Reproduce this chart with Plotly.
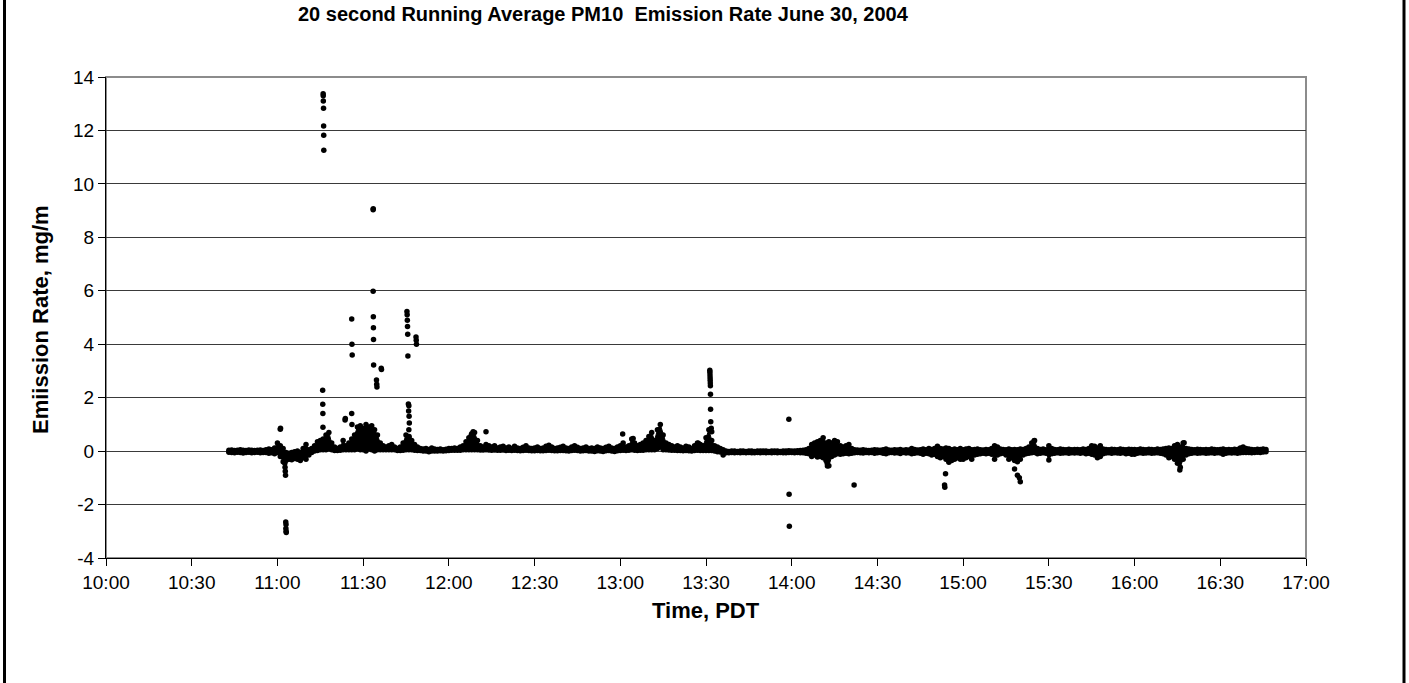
import plotly.graph_objects as go

# ---------------- data ----------------
DAY = "2004-06-30"
START_MIN = 43  # first baseline minute after 10:00 (10:43)

# per-minute upper / lower edge of the dense band, by hour
hi_10 = [0.03,0.04,0.02,0.03,0.05,0.03,0.02,0.04,0.03,0.02,0.03,0.04,0.02,0.05,0.08,0.05,0.12]
lo_10 = [-0.04,-0.05,-0.06,-0.04,-0.05,-0.07,-0.05,-0.04,-0.06,-0.05,-0.04,-0.06,-0.05,-0.05,-0.08,-0.06,-0.10]

hi_11 = [0.30,0.20,0.10,-0.05,-0.08,-0.05,-0.02,0.00,-0.05,0.10,
         0.25,0.05,0.10,0.20,0.35,0.40,0.45,0.60,0.70,0.30,
         0.15,0.10,0.15,0.40,0.20,0.30,0.45,0.60,0.90,0.95,
         0.85,1.00,0.90,0.95,0.80,0.60,0.30,0.20,0.15,0.20,
         0.25,0.15,0.10,0.15,0.30,0.60,0.50,0.40,0.25,0.15,
         0.10,0.08,0.10,0.06,0.12,0.08,0.06,0.08,0.05,0.07]
lo_11 = [-0.05,-0.20,-0.40,-0.35,-0.30,-0.32,-0.28,-0.30,-0.35,-0.25,
         -0.30,-0.15,-0.05,0.00,0.02,0.05,0.05,0.05,0.10,0.05,
         0.02,0.02,0.03,0.05,0.05,0.05,0.05,0.05,0.10,0.05,
         0.05,0.00,0.10,0.05,0.00,0.05,0.05,0.05,0.05,0.05,
         0.05,0.05,0.02,0.02,0.03,0.05,0.05,0.05,0.03,0.02,
         0.02,0.00,0.00,-0.02,0.00,0.00,0.00,0.01,0.00,0.01]

hi_12 = [0.10,0.10,0.12,0.10,0.15,0.20,0.35,0.50,0.65,0.70,
         0.40,0.20,0.15,0.25,0.20,0.15,0.20,0.12,0.15,0.18,
         0.12,0.15,0.10,0.18,0.12,0.10,0.14,0.20,0.12,0.10,
         0.12,0.15,0.10,0.12,0.18,0.22,0.15,0.10,0.12,0.14,
         0.18,0.12,0.10,0.15,0.20,0.14,0.10,0.12,0.15,0.10,
         0.12,0.10,0.15,0.12,0.10,0.14,0.18,0.12,0.10,0.15]
lo_12 = [0.02,0.03,0.03,0.03,0.03,0.05,0.05,0.05,0.05,0.05,
         0.05,0.04,0.04,0.05,0.04,0.03,0.04,0.03,0.03,0.04,
         0.02,0.03,0.02,0.03,0.02,0.01,0.02,0.03,0.02,0.01,
         0.01,0.02,0.01,0.01,0.02,0.03,0.02,0.01,0.01,0.02,
         0.02,0.01,0.00,0.02,0.03,0.02,0.00,0.01,0.02,0.00,
         0.00,-0.01,0.01,0.00,-0.01,0.01,0.02,0.00,-0.01,0.01]

hi_13 = [0.20,0.30,0.15,0.20,0.45,0.30,0.20,0.25,0.30,0.40,
         0.55,0.70,0.40,0.80,1.00,0.60,0.30,0.25,0.20,0.15,
         0.20,0.15,0.12,0.18,0.15,0.10,0.20,0.30,0.25,0.20,
         0.50,0.80,0.40,0.20,0.15,0.10,0.05,0.00,-0.01,0.00,
         0.00,-0.01,0.00,0.00,-0.01,0.00,0.00,-0.01,0.00,0.00,
         0.00,0.00,-0.01,0.00,0.00,0.00,-0.01,0.00,0.00,0.01]
lo_13 = [0.02,0.03,0.02,0.03,0.05,0.03,0.02,0.03,0.03,0.05,
         0.05,0.05,0.05,0.10,0.15,0.05,0.05,0.04,0.03,0.03,
         0.02,0.02,0.01,0.02,0.01,0.00,0.02,0.03,0.02,0.02,
         0.02,0.02,0.02,0.00,-0.02,-0.03,-0.15,-0.06,-0.06,-0.05,
         -0.06,-0.05,-0.06,-0.05,-0.06,-0.05,-0.06,-0.06,-0.05,-0.06,
         -0.05,-0.06,-0.05,-0.06,-0.05,-0.06,-0.05,-0.06,-0.06,-0.05]

hi_14 = [0.00,0.00,0.01,0.02,0.03,0.05,0.10,0.25,0.30,0.35,
         0.40,0.50,0.30,0.35,0.30,0.40,0.35,0.20,0.15,0.20,
         0.25,0.10,0.05,0.04,0.03,0.05,0.03,0.02,0.03,0.05,
         0.04,0.03,0.05,0.08,0.04,0.03,0.05,0.04,0.06,0.03,
         0.05,0.04,0.10,0.06,0.04,0.05,0.08,0.05,0.10,0.06,
         0.10,0.18,0.10,0.08,0.12,0.10,0.05,0.08,0.05,0.10]
lo_14 = [-0.05,-0.06,-0.05,-0.06,-0.06,-0.08,-0.10,-0.20,-0.15,-0.22,
         -0.20,-0.25,-0.35,-0.55,-0.20,-0.15,-0.10,-0.12,-0.10,-0.08,
         -0.10,-0.08,-0.06,-0.05,-0.06,-0.07,-0.05,-0.06,-0.05,-0.08,
         -0.06,-0.05,-0.08,-0.10,-0.06,-0.05,-0.07,-0.06,-0.09,-0.05,
         -0.07,-0.06,-0.10,-0.08,-0.06,-0.08,-0.12,-0.08,-0.10,-0.15,
         -0.12,-0.20,-0.25,-0.20,-0.30,-0.42,-0.35,-0.30,-0.25,-0.30]

hi_15 = [0.05,0.08,0.10,0.05,0.06,0.08,0.05,0.04,0.06,0.05,
         0.10,0.20,0.15,0.08,0.06,0.05,0.08,0.05,0.06,0.05,
         0.08,0.06,0.10,0.15,0.30,0.40,0.10,0.06,0.08,0.05,
         0.20,0.10,0.06,0.05,0.08,0.06,0.05,0.07,0.05,0.06,
         0.06,0.05,0.08,0.06,0.10,0.20,0.18,0.12,0.20,0.08,
         0.06,0.05,0.07,0.06,0.05,0.08,0.06,0.05,0.07,0.06]
lo_15 = [-0.30,-0.25,-0.20,-0.30,-0.15,-0.12,-0.10,-0.08,-0.10,-0.08,
         -0.12,-0.30,-0.15,-0.10,-0.08,-0.15,-0.30,-0.25,-0.35,-0.40,
         -0.30,-0.15,-0.10,-0.08,-0.06,-0.05,-0.10,-0.08,-0.06,-0.08,
         -0.33,-0.10,-0.08,-0.06,-0.08,-0.07,-0.06,-0.08,-0.06,-0.07,
         -0.06,-0.08,-0.06,-0.10,-0.08,-0.12,-0.15,-0.25,-0.20,-0.10,
         -0.07,-0.06,-0.08,-0.06,-0.07,-0.08,-0.06,-0.10,-0.08,-0.12]

hi_16 = [0.06,0.05,0.08,0.06,0.05,0.07,0.06,0.05,0.08,0.06,
         0.08,0.10,0.12,0.10,0.20,0.25,0.15,0.30,0.10,0.08,
         0.06,0.05,0.07,0.06,0.05,0.06,0.05,0.08,0.06,0.05,
         0.06,0.08,0.05,0.06,0.05,0.07,0.06,0.12,0.15,0.10,
         0.08,0.06,0.05,0.07,0.06,0.08,0.06]
lo_16 = [-0.12,-0.08,-0.06,-0.08,-0.07,-0.06,-0.08,-0.07,-0.06,-0.08,
         -0.10,-0.15,-0.25,-0.20,-0.30,-0.45,-0.60,-0.30,-0.15,-0.10,
         -0.08,-0.06,-0.08,-0.07,-0.06,-0.08,-0.07,-0.06,-0.08,-0.06,
         -0.07,-0.12,-0.08,-0.06,-0.07,-0.06,-0.08,-0.06,-0.05,-0.05,
         -0.05,-0.06,-0.05,-0.04,-0.05,-0.03,-0.02]

# isolated points away from the band
spike_times = ["11:01:00","11:01:05",
               "11:02:35","11:02:40","11:02:45","11:02:50",
               "11:02:55","11:03:00","11:02:58","11:03:02","11:03:05",
               "11:16:00","11:16:02","11:16:04","11:16:08","11:16:10","11:16:12","11:16:14",
               "11:15:50","11:15:52","11:15:54","11:15:56",
               "11:23:40","11:23:45",
               "11:26:00","11:26:05","11:26:10","11:26:00","11:26:05",
               "11:33:30","11:33:32","11:33:30","11:33:34","11:33:36","11:33:38","11:33:40",
               "11:34:40","11:34:45","11:34:50",
               "11:36:20","11:36:25",
               "11:45:20","11:45:24","11:45:28","11:45:32","11:45:36","11:45:40",
               "11:45:50","11:46:00","11:45:55","11:46:05","11:46:10","11:46:00","11:46:05",
               "11:48:30","11:48:35","11:48:40",
               "12:07:50","12:08:30","12:13:00",
               "13:00:50","13:04:30","13:27:20",
               "13:31:20","13:31:22","13:31:24","13:31:26","13:31:28","13:31:30","13:31:32",
               "13:31:34","13:31:36","13:31:40","13:31:50","13:32:00",
               "13:59:00","13:59:05","13:59:10",
               "14:12:20","14:12:25","14:12:30",
               "14:21:50",
               "14:53:30","14:53:35","14:53:50",
               "15:18:00","15:19:00","15:19:40","15:20:00",
               "15:24:50",
               "16:15:50","16:17:20"]
spike_vals = [0.82,0.86,
              -0.45,-0.60,-0.75,-0.90,
              -2.65,-2.75,-2.90,-3.00,-3.05,
              13.37,13.30,13.10,12.83,12.17,11.82,11.26,
              2.28,1.75,1.41,0.89,
              1.16,1.22,
              4.94,4.00,3.60,1.41,1.00,
              9.03,9.07,5.98,5.03,4.62,4.18,3.22,
              2.66,2.50,2.40,
              3.10,3.05,
              5.22,5.10,4.90,4.66,4.37,3.56,
              1.76,1.70,1.50,1.30,1.05,0.80,0.55,
              4.27,4.15,4.00,
              0.60,0.72,0.72,
              0.64,0.47,0.29,
              3.03,2.95,2.85,2.75,2.65,2.55,2.45,
              2.13,1.57,1.10,0.86,0.72,
              1.19,-1.61,-2.81,
              -0.33,-0.45,-0.56,
              -1.27,
              -1.27,-1.35,-0.85,
              -0.67,-0.90,-1.00,-1.15,
              0.39,
              -0.71,0.31]

x_tick_labels = ["10:00","10:30","11:00","11:30","12:00","12:30","13:00",
                 "13:30","14:00","14:30","15:00","15:30","16:00","16:30","17:00"]
y_ticks = [-4,-2,0,2,4,6,8,10,12,14]
y_tick_labels = ["-4","-2","0","2","4","6","8","10","12","14"]

# ---------------- assemble ----------------
band_hi = hi_10 + hi_11 + hi_12 + hi_13 + hi_14 + hi_15 + hi_16
band_lo = lo_10 + lo_11 + lo_12 + lo_13 + lo_14 + lo_15 + lo_16
band_t = [f"{DAY} {(START_MIN + i)//60 + 10:02d}:{(START_MIN + i) % 60:02d}:00"
          for i in range(len(band_hi))]
spike_t = [f"{DAY} {t}" for t in spike_times]
tick_vals = [f"{DAY} {t}" for t in x_tick_labels]

FONT = "Liberation Sans, Arial, Helvetica, sans-serif"
MS = 5.5

fig = go.Figure()
fig.add_trace(go.Scatter(x=band_t, y=band_lo, mode="lines",
                         line=dict(color="black", width=1), hoverinfo="skip"))
fig.add_trace(go.Scatter(x=band_t, y=band_hi, mode="lines", fill="tonexty",
                         fillcolor="black", line=dict(color="black", width=1),
                         hoverinfo="skip"))
fig.add_trace(go.Scatter(x=band_t, y=band_lo, mode="markers",
                         marker=dict(color="black", size=MS)))
fig.add_trace(go.Scatter(x=band_t, y=band_hi, mode="markers",
                         marker=dict(color="black", size=MS)))
fig.add_trace(go.Scatter(x=spike_t, y=spike_vals, mode="markers",
                         marker=dict(color="black", size=MS)))

L, R, T, B = 106, 103, 77, 125
W, H = 1409, 683
pw, ph = W - L - R, H - T - B

fig.update_layout(
    width=W, height=H,
    margin=dict(l=L, r=R, t=T, b=B),
    paper_bgcolor="white", plot_bgcolor="white",
    showlegend=False,
    font=dict(family=FONT, color="black", size=19),
    xaxis=dict(type="date",
               range=[f"{DAY} 10:00", f"{DAY} 17:00"],
               tickvals=tick_vals, ticktext=x_tick_labels,
               ticks="outside", ticklen=7, tickcolor="black", tickwidth=1,
               showgrid=False, zeroline=False,
               showline=True, linecolor="black", linewidth=1,
               tickfont=dict(size=19, family=FONT)),
    yaxis=dict(range=[-4, 14], tickvals=y_ticks, ticktext=y_tick_labels,
               ticks="outside", ticklen=7, tickcolor="black", tickwidth=1,
               showgrid=True, gridcolor="#3a3a3a", gridwidth=1,
               zeroline=False,
               showline=True, linecolor="black", linewidth=1,
               tickfont=dict(size=19, family=FONT)),
)

# plot-area frame (grey top/right) and outer chart border
fig.add_shape(type="rect", xref="paper", yref="paper", x0=0, y0=0, x1=1, y1=1,
              line=dict(color="#8c8c8c", width=2), layer="below")
for px in (4.5, 1404):
    xp = (px - L) / pw
    fig.add_shape(type="line", xref="paper", yref="paper",
                  x0=xp, x1=xp, y0=(B - H) / ph - 0.1, y1=1 + T / ph + 0.1,
                  line=dict(color="black", width=3))

fig.add_annotation(text="<b>20 second Running Average PM10  Emission Rate June 30, 2004</b>",
                   xref="paper", yref="paper",
                   x=(603 - L) / pw, y=1 + (T - 14) / ph,
                   xanchor="center", yanchor="middle", showarrow=False,
                   font=dict(size=20, family=FONT))
fig.add_annotation(text="<b>Time, PDT</b>", xref="paper", yref="paper",
                   x=(706 - L) / pw, y=-(610 - (H - B)) / ph,
                   xanchor="center", yanchor="middle", showarrow=False,
                   font=dict(size=22, family=FONT))
fig.add_annotation(text="<b>Emiission Rate, mg/m</b>", xref="paper", yref="paper",
                   x=(40 - L) / pw, y=1 - (320 - T) / ph,
                   xanchor="center", yanchor="middle", showarrow=False,
                   textangle=-90, font=dict(size=22, family=FONT))

fig.write_html("out.html", post_script="document.body.style.margin='0px';",
               config={"displayModeBar": False, "staticPlot": True})
